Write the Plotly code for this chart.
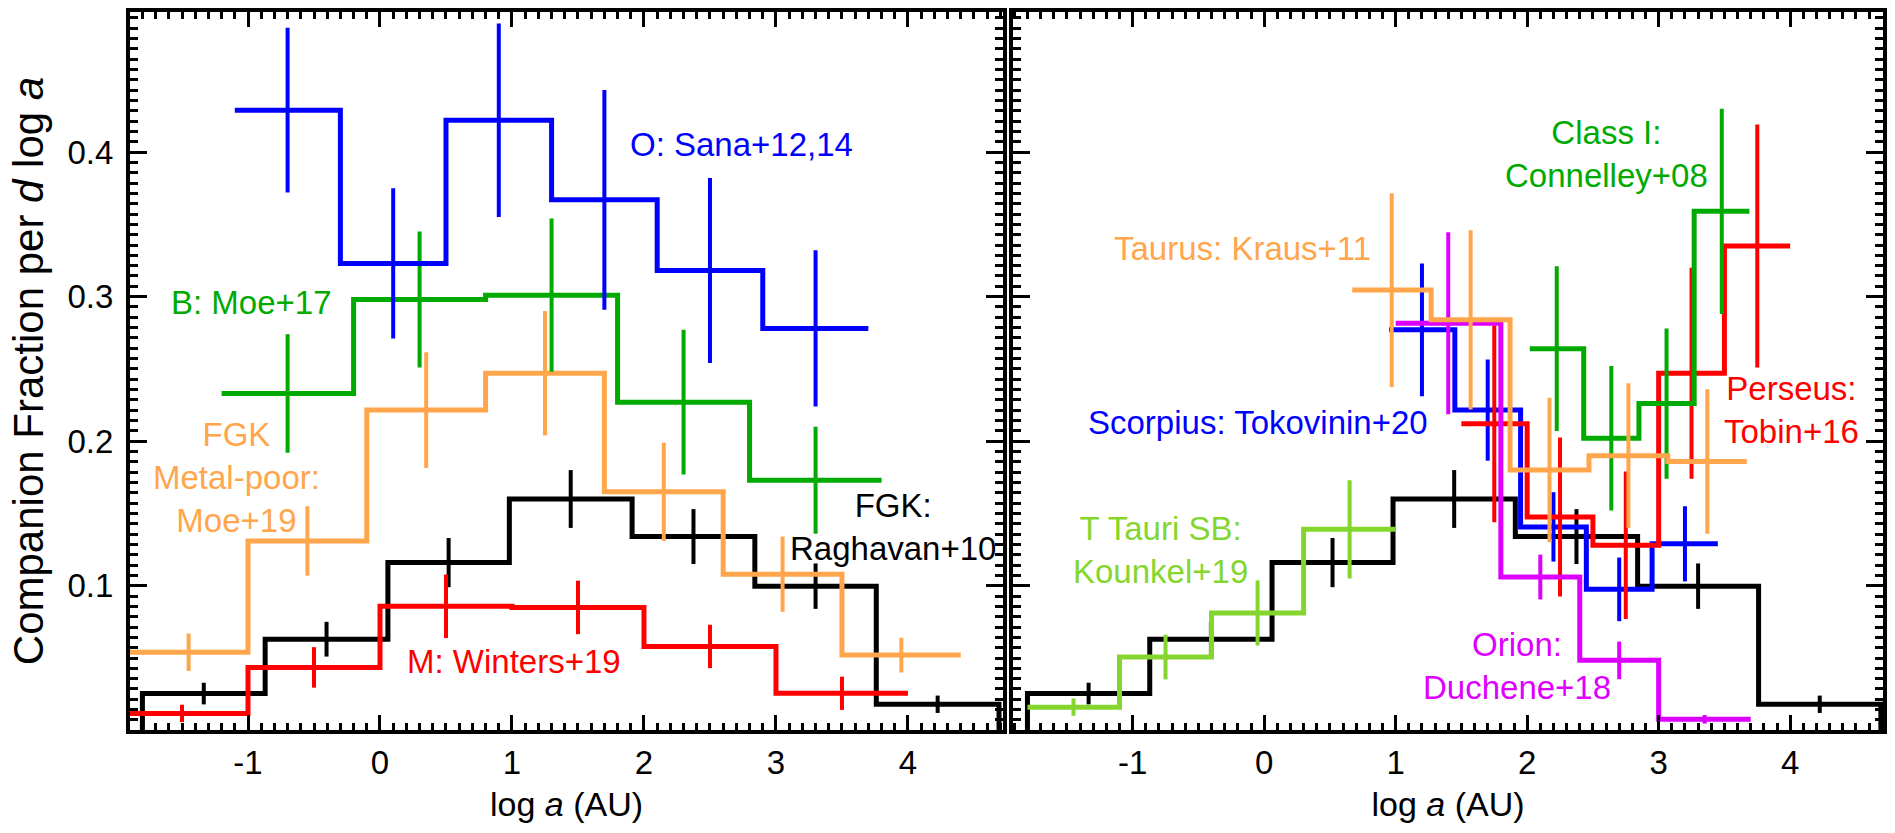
import plotly.graph_objects as go

# ---------------- left panel: field populations ----------------
# O stars (Sana+12,14)
o_edges = [-1.1, -0.3, 0.5, 1.3, 2.1, 2.9, 3.7]
o_frac = [0.429, 0.323, 0.422, 0.367, 0.318, 0.278]
o_err = [0.057, 0.052, 0.067, 0.076, 0.064, 0.054]

# B stars (Moe+17)
b_edges = [-1.2, -0.2, 0.8, 1.8, 2.8, 3.8]
b_frac = [0.233, 0.298, 0.301, 0.227, 0.173]
b_err = [0.041, 0.047, 0.053, 0.050, 0.037]

# metal-poor FGK (Moe+19)
mp_edges = [-1.9, -1.0, -0.1, 0.8, 1.7, 2.6, 3.5, 4.4]
mp_frac = [0.054, 0.131, 0.2215, 0.247, 0.165, 0.108, 0.052]
mp_err = [0.013, 0.024, 0.040, 0.043, 0.034, 0.026, 0.012]

# solar-type FGK (Raghavan+10), shown in both panels
fgk_edges = [-1.80, -0.87, 0.06, 0.98, 1.91, 2.84, 3.76, 4.69]
fgk_frac = [0.0254, 0.063, 0.116, 0.160, 0.134, 0.0997, 0.018]
fgk_err = [0.0075, 0.012, 0.017, 0.020, 0.019, 0.0157, 0.006]

# M dwarfs (Winters+19)
m_edges = [-2.0, -1.0, 0.0, 1.0, 2.0, 3.0, 4.0]
m_frac = [0.0117, 0.0435, 0.0858, 0.085, 0.058, 0.0256]
m_err = [0.006, 0.014, 0.022, 0.0185, 0.015, 0.0115]

# ---------------- right panel: young populations ----------------
# T Tauri spectroscopic binaries (Kounkel+19)
kou_edges = [-1.8, -1.1, -0.4, 0.3, 1.0]
kou_frac = [0.016, 0.0507, 0.0812, 0.139]
kou_err = [0.006, 0.0155, 0.0225, 0.034]

# Taurus (Kraus+11)
kra_edges = [0.67, 1.27, 1.87, 2.47, 3.07, 3.67]
kra_frac = [0.3045, 0.284, 0.180, 0.190, 0.186]
kra_err = [0.067, 0.062, 0.050, 0.050, 0.050]

# Scorpius (Tokovinin+20)
sco_edges = [0.95, 1.45, 1.95, 2.45, 2.95, 3.45]
sco_frac = [0.277, 0.2215, 0.1407, 0.0975, 0.129]
sco_err = [0.046, 0.035, 0.024, 0.022, 0.026]

# Orion (Duchene+18)
ori_edges = [1.0, 1.8, 2.4, 3.0, 3.7]
ori_frac = [0.2816, 0.106, 0.0484, 0.0076]
ori_err = [0.063, 0.0155, 0.013, 0.003]

# Perseus protostars (Tobin+16)
per_edges = [1.5, 2.0, 2.5, 3.0, 3.5, 4.0]
per_frac = [0.212, 0.1476, 0.128, 0.247, 0.335]
per_err = [0.068, 0.055, 0.051, 0.073, 0.084]

# Class I (Connelley+08)
cls_edges = [2.02, 2.43, 2.85, 3.27, 3.69]
cls_frac = [0.264, 0.202, 0.226, 0.359]
cls_err = [0.057, 0.050, 0.052, 0.071]

BLUE = "#0000ff"
GREEN = "#00aa00"
ORANGE = "#ffa64d"
RED = "#ff0000"
BLACK = "#000000"
LIME = "#84d62f"
MAGENTA = "#dd00ff"

FONT = "Liberation Sans, Arial, Helvetica, sans-serif"
STEP_W = 5
ERR_W = 4

fig = go.Figure()


def add_hist(edges, vals, errs, color, xa, ya, closed=False):
    """Histogram drawn as a step line plus a vertical error bar at each bin centre."""
    if closed:
        xs = [edges[0]] + list(edges)
        ys = [0] + list(vals) + [0]
    else:
        xs = list(edges)
        ys = list(vals) + [vals[-1]]
    fig.add_trace(go.Scatter(
        x=xs, y=ys, mode="lines", line=dict(color=color, width=STEP_W, shape="hv"),
        xaxis=xa, yaxis=ya, showlegend=False, hoverinfo="skip"))
    ex, ey = [], []
    for i, (v, e) in enumerate(zip(vals, errs)):
        c = 0.5 * (edges[i] + edges[i + 1])
        ex += [c, c, None]
        ey += [v - e, v + e, None]
    fig.add_trace(go.Scatter(
        x=ex, y=ey, mode="lines", line=dict(color=color, width=ERR_W),
        xaxis=xa, yaxis=ya, showlegend=False, hoverinfo="skip"))


# left panel
add_hist(fgk_edges, fgk_frac, fgk_err, BLACK, "x", "y", closed=True)
add_hist(m_edges, m_frac, m_err, RED, "x", "y")
add_hist(mp_edges, mp_frac, mp_err, ORANGE, "x", "y")
add_hist(b_edges, b_frac, b_err, GREEN, "x", "y")
add_hist(o_edges, o_frac, o_err, BLUE, "x", "y")

# right panel
add_hist(fgk_edges, fgk_frac, fgk_err, BLACK, "x2", "y2", closed=True)
add_hist(kou_edges, kou_frac, kou_err, LIME, "x2", "y2")
add_hist(sco_edges, sco_frac, sco_err, BLUE, "x2", "y2")
add_hist(per_edges, per_frac, per_err, RED, "x2", "y2")
add_hist(cls_edges, cls_frac, cls_err, GREEN, "x2", "y2")
add_hist(ori_edges, ori_frac, ori_err, MAGENTA, "x2", "y2")
add_hist(kra_edges, kra_frac, kra_err, ORANGE, "x2", "y2")

labels = [
    ("x", "y", 2.74, 0.405, "O: Sana+12,14", BLUE),
    ("x", "y", -0.97, 0.296, "B: Moe+17", GREEN),
    ("x", "y", -1.09, 0.175, "FGK<br>Metal-poor:<br>Moe+19", ORANGE),
    ("x", "y", 3.89, 0.1405, "FGK:<br>Raghavan+10", BLACK),
    ("x", "y", 1.015, 0.0477, "M: Winters+19", RED),
    ("x2", "y2", 2.60, 0.399, "Class I:<br>Connelley+08", GREEN),
    ("x2", "y2", -0.165, 0.333, "Taurus: Kraus+11", ORANGE),
    ("x2", "y2", -0.05, 0.213, "Scorpius: Tokovinin+20", BLUE),
    ("x2", "y2", 4.01, 0.2215, "Perseus:<br>Tobin+16", RED),
    ("x2", "y2", -0.79, 0.125, "T Tauri SB:<br>Kounkel+19", LIME),
    ("x2", "y2", 1.92, 0.0443, "Orion:<br>Duchene+18", MAGENTA),
]
for xr, yr, x, y, txt, col in labels:
    fig.add_annotation(x=x, y=y, xref=xr, yref=yr, text=txt, showarrow=False,
                       xanchor="center", yanchor="middle", align="center",
                       font=dict(family=FONT, size=33, color=col))

x_common = dict(
    tickmode="linear", tick0=0, dtick=1, labelalias={"\u22121": "-1"},
    ticks="inside", ticklen=15, tickwidth=3, tickcolor="black",
    minor=dict(tickmode="linear", tick0=0, dtick=0.1, ticks="inside",
               ticklen=7, tickwidth=3, tickcolor="black", showgrid=False),
    showline=True, linewidth=4, linecolor="black", mirror="allticks",
    showgrid=False, zeroline=False,
    tickfont=dict(family=FONT, size=33, color="black"),
    title=dict(text="log <i>a</i> (AU)", font=dict(family=FONT, size=34, color="black"),
               standoff=14),
)
y_common = dict(
    range=[0.0002, 0.4969],
    tickmode="linear", tick0=0, dtick=0.1, tickformat=".1f",
    ticks="inside", ticklen=17, tickwidth=3, tickcolor="black",
    minor=dict(tickmode="linear", tick0=0, dtick=0.1 / 14, ticks="inside",
               ticklen=8, tickwidth=3, tickcolor="black", showgrid=False),
    showline=True, linewidth=4, linecolor="black", mirror="allticks",
    showgrid=False, zeroline=False,
    tickfont=dict(family=FONT, size=33, color="black"),
)

fig.update_layout(
    width=1895, height=833,
    margin=dict(l=130, r=12, t=12, b=103, autoexpand=False),
    paper_bgcolor="white", plot_bgcolor="white",
    xaxis=dict(domain=[0, 0.498], range=[-1.894, 4.72], anchor="y", **x_common),
    xaxis2=dict(domain=[0.5037, 1.0], range=[-1.91, 4.706], anchor="y2", **x_common),
    yaxis=dict(domain=[0, 1], anchor="x", ticklabelstandoff=6,
               title=dict(text="Companion Fraction per <i>d</i> log <i>a</i>",
                          font=dict(family=FONT, size=42, color="black"), standoff=12),
               **y_common),
    yaxis2=dict(domain=[0, 1], anchor="x2", showticklabels=False, **y_common),
)

fig.write_html("out.html")
